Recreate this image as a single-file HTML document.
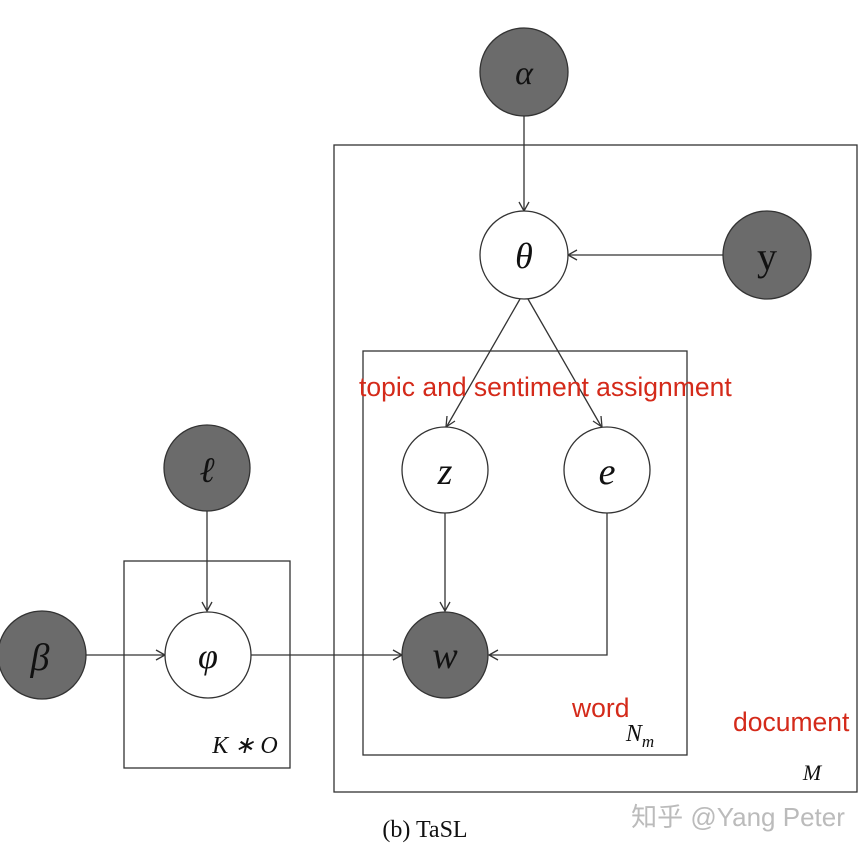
<!DOCTYPE html>
<html><head><meta charset="utf-8"><style>
html,body{margin:0;padding:0;background:#fff;}
svg{display:block}
.m{font-family:"Liberation Serif",serif;font-style:italic;fill:#111;text-anchor:middle}
.r{font-family:"Liberation Sans",sans-serif;fill:#d42a1a}
</style></head><body>
<svg width="866" height="856" viewBox="0 0 866 856">
<g fill="none" stroke="#333" stroke-width="1.3">
<rect x="334" y="145" width="523" height="647"/>
<rect x="363" y="351" width="324" height="404"/>
<rect x="124" y="561" width="166" height="207"/>
<line x1="524" y1="116" x2="524" y2="210"/>
<polyline points="519,202 524,211 529,202"/>
<line x1="723" y1="255" x2="569" y2="255"/>
<polyline points="577,250 568,255 577,260"/>
<line x1="520" y1="299" x2="447" y2="426"/>
<polyline points="447,416 446,427 455,421"/>
<line x1="528" y1="299" x2="601" y2="426"/>
<polyline points="593,421 602,427 601,416"/>
<line x1="445" y1="513" x2="445" y2="610"/>
<polyline points="440,602 445,611 450,602"/>
<polyline points="607,513 607,655 490,655"/>
<polyline points="498,650 489,655 498,660"/>
<line x1="207" y1="511" x2="207" y2="610"/>
<polyline points="202,602 207,611 212,602"/>
<line x1="86" y1="655" x2="164" y2="655"/>
<polyline points="156,650 165,655 156,660"/>
<line x1="251" y1="655" x2="401" y2="655"/>
<polyline points="393,650 402,655 393,660"/>
</g>
<g stroke="#333" stroke-width="1.3">
<circle cx="524" cy="72" r="44" fill="#6b6b6b"/>
<circle cx="524" cy="255" r="44" fill="#fff"/>
<circle cx="767" cy="255" r="44" fill="#6b6b6b"/>
<circle cx="445" cy="470" r="43" fill="#fff"/>
<circle cx="607" cy="470" r="43" fill="#fff"/>
<circle cx="207" cy="468" r="43" fill="#6b6b6b"/>
<circle cx="42" cy="655" r="44" fill="#6b6b6b"/>
<circle cx="208" cy="655" r="43" fill="#fff"/>
<circle cx="445" cy="655" r="43" fill="#6b6b6b"/>
</g>
<text class="m" x="524" y="84" font-size="34">α</text>
<text class="m" x="524" y="268" font-size="36">θ</text>
<text x="767" y="270" font-size="40" text-anchor="middle" font-family="Liberation Serif,serif" fill="#111">y</text>
<text class="m" x="445" y="484" font-size="38">z</text>
<text class="m" x="607" y="484" font-size="38">e</text>
<text class="m" x="207" y="482" font-size="36">ℓ</text>
<text class="m" x="40" y="670" font-size="38">β</text>
<text class="m" x="208" y="668" font-size="36">φ</text>
<text class="m" x="445" y="668" font-size="38">w</text>
<text class="m" x="245" y="753" font-size="24">K ∗ O</text>
<text class="m" x="640" y="741" font-size="24">N<tspan font-size="17" dy="6">m</tspan></text>
<text class="m" x="812" y="780" font-size="22">M</text>
<text class="r" x="359" y="396" font-size="26.5">topic and sentiment assignment</text>
<text class="r" x="572" y="717" font-size="26.5">word</text>
<text class="r" x="733" y="731" font-size="26.5">document</text>
<text x="425" y="837" font-size="24" text-anchor="middle" font-family="Liberation Serif,serif" fill="#111">(b) TaSL</text>
<text x="738" y="826" font-size="26" text-anchor="middle" font-family="Liberation Sans,'Noto Sans CJK SC',sans-serif" fill="#bbb">知乎 @Yang Peter</text>
</svg>
</body></html>
